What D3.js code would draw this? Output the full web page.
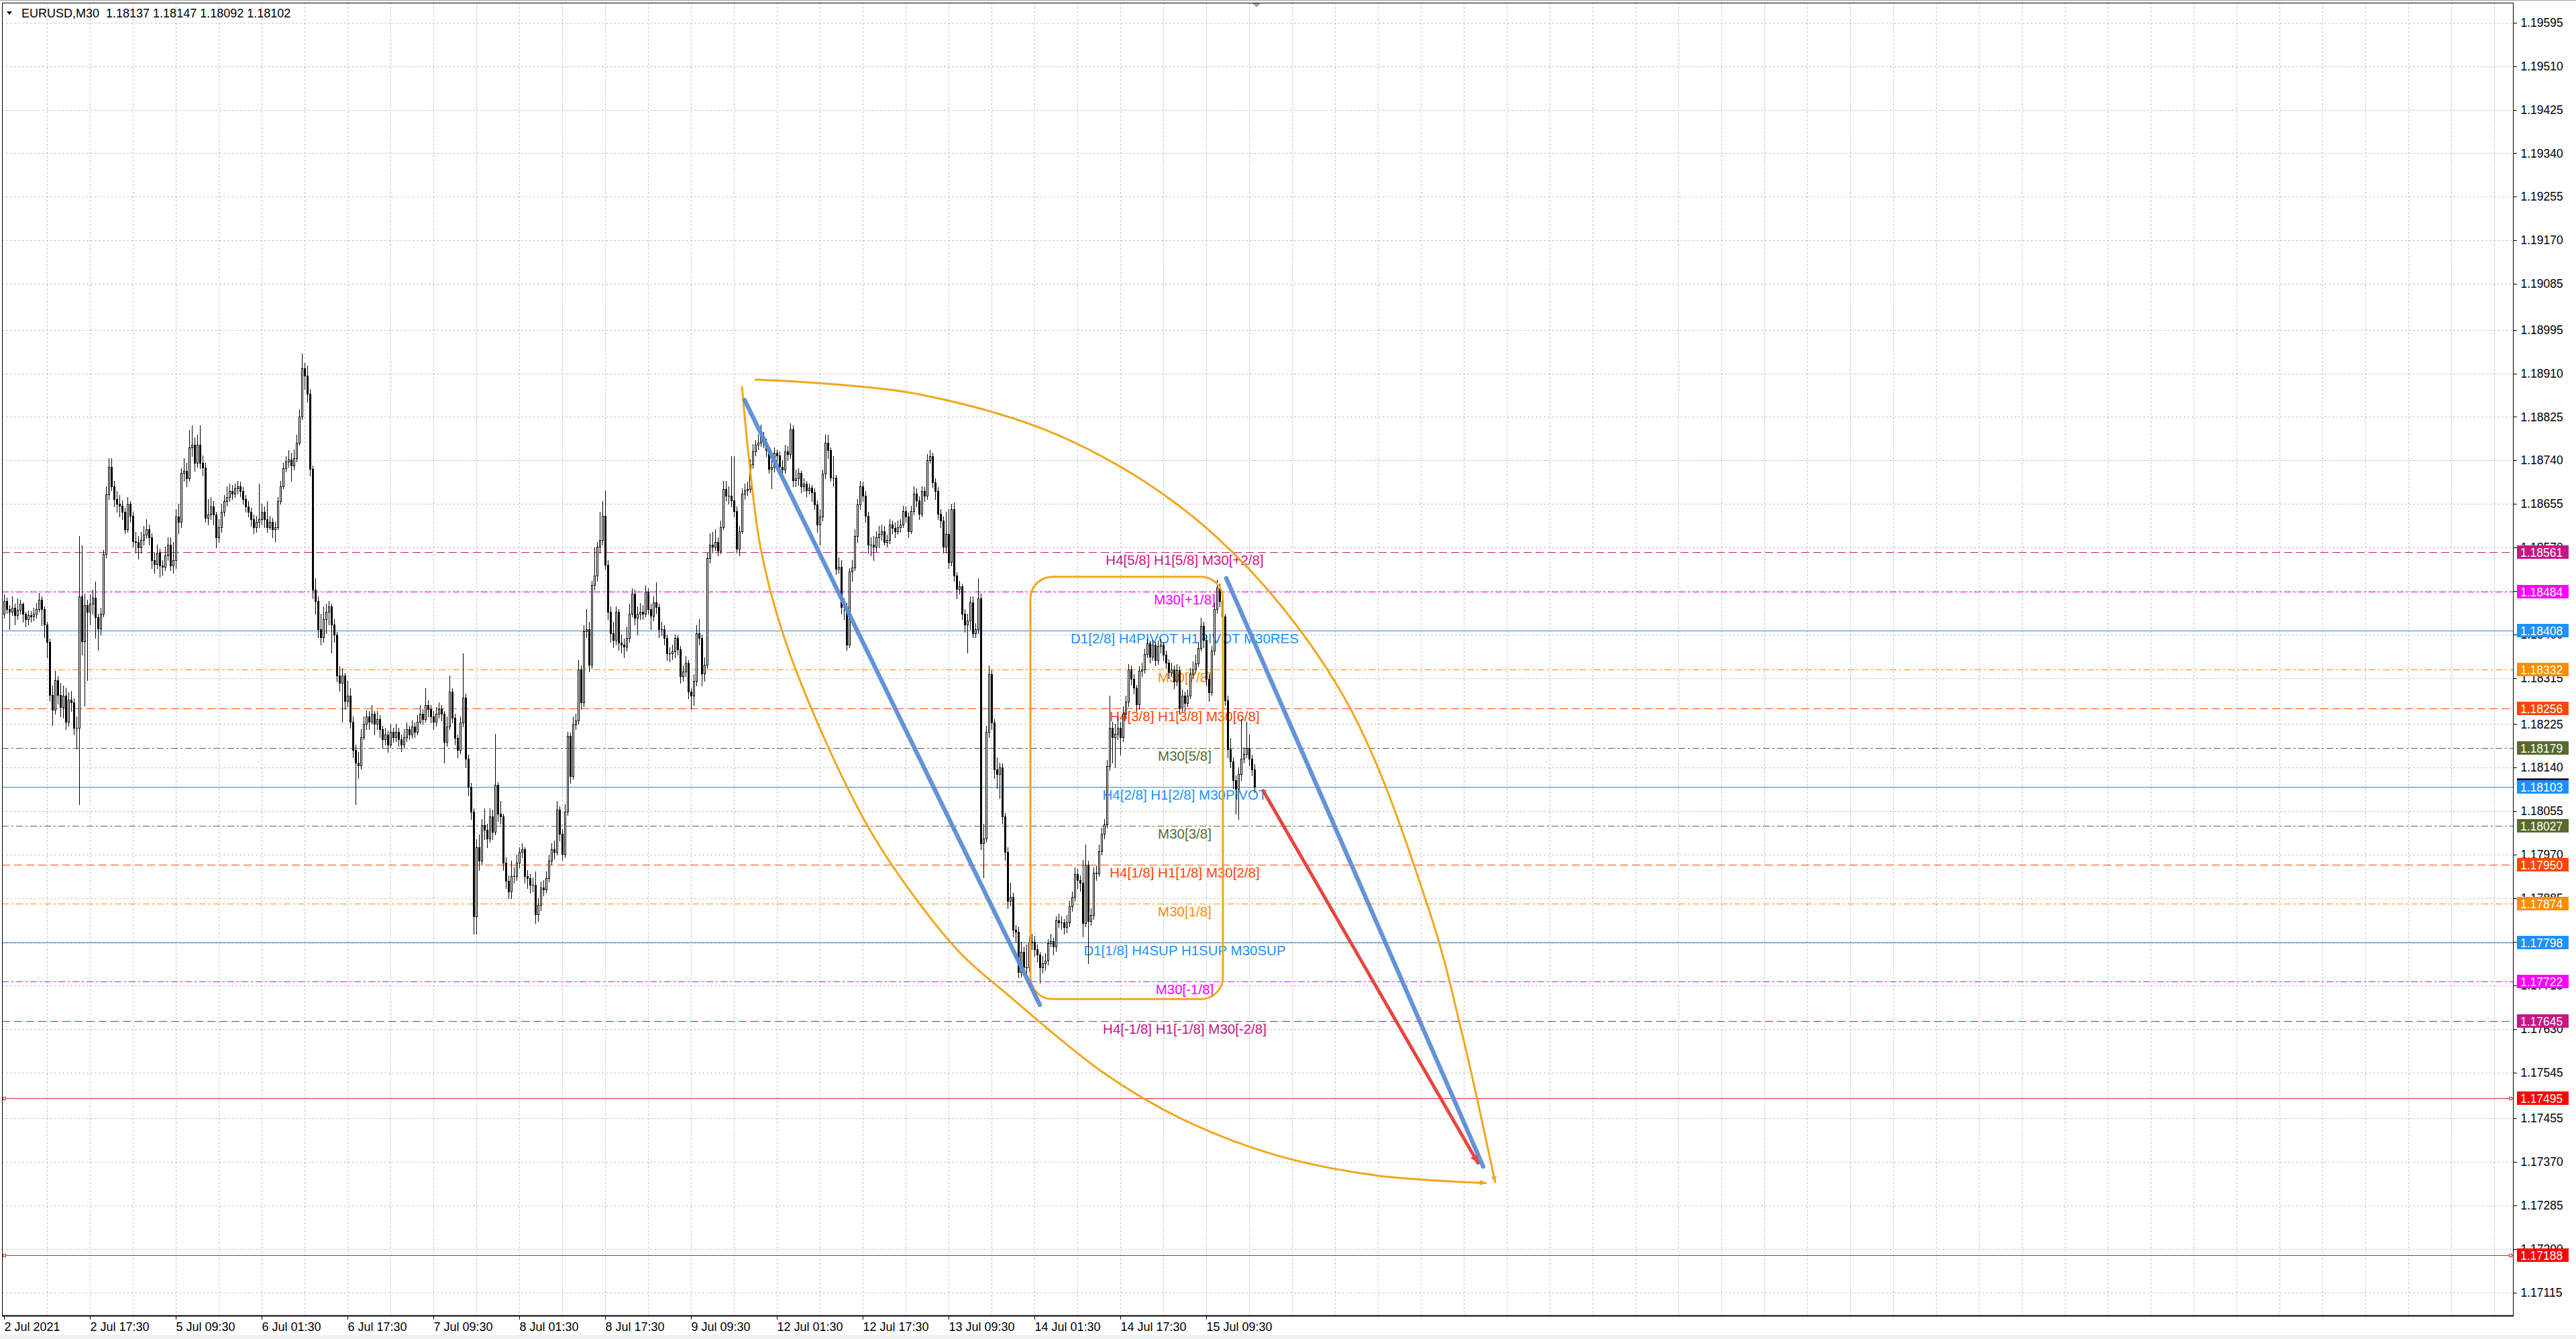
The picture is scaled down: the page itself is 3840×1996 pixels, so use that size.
<!DOCTYPE html>
<html><head><meta charset="utf-8">
<script src="https://cdn.jsdelivr.net/npm/d3@7"></script>
<style>html,body{margin:0;padding:0;background:#fff;}svg{display:block}</style>
</head><body>
<svg id="c" width="3840" height="1996"></svg>
<script>
// ---- DATA (candle values in points above BASE: price = BASE + v/100000) ----
const symbol = "EURUSD,M30";
const BASE = 1.17;
const open = [1440,1465,1450,1445,1452,1438,1448,1460,1440,1430,1438,1435,1440,1450,1468,1450,1420,1385,1282,1253,1311,1282,1259,1280,1229,1273,1268,1218,1218,1475,1387,1457,1445,1460,1472,1434,1411,1440,1557,1674,1727,1690,1665,1655,1652,1640,1605,1655,1632,1582,1580,1570,1585,1595,1605,1590,1545,1538,1560,1535,1532,1555,1575,1535,1545,1630,1620,1715,1720,1705,1765,1770,1735,1770,1735,1726,1628,1635,1650,1635,1590,1610,1640,1660,1668,1680,1675,1685,1690,1680,1665,1650,1640,1625,1610,1620,1625,1640,1625,1610,1620,1605,1610,1660,1690,1725,1738,1742,1730,1745,1775,1826,1920,1905,1870,1724,1487,1465,1410,1395,1430,1445,1455,1420,1400,1320,1305,1320,1270,1280,1230,1175,1150,1145,1200,1225,1240,1230,1245,1225,1235,1215,1195,1205,1185,1210,1200,1210,1195,1185,1200,1215,1205,1220,1210,1230,1245,1235,1262,1255,1240,1230,1245,1255,1245,1190,1220,1288,1237,1198,1175,1228,1277,1158,1102,1054,850,985,958,1028,1019,1002,1045,1015,1106,1050,1045,954,919,898,928,928,954,976,980,928,924,911,911,854,872,906,902,924,958,980,976,1058,1011,971,1054,1202,1124,1224,1232,1332,1267,1406,1410,1341,1497,1515,1571,1584,1632,1536,1445,1402,1389,1445,1384,1380,1376,1393,1441,1480,1432,1441,1445,1441,1484,1450,1436,1463,1454,1410,1410,1393,1363,1363,1367,1393,1371,1319,1328,1345,1289,1280,1310,1402,1393,1324,1341,1549,1575,1571,1580,1563,1610,1684,1671,1671,1662,1641,1567,1602,1675,1681,1684,1732,1758,1771,1775,1788,1775,1760,1723,1728,1755,1750,1728,1722,1758,1752,1801,1701,1705,1715,1690,1695,1682,1687,1678,1654,1615,1630,1714,1775,1760,1706,1706,1528,1532,1454,1454,1380,1523,1531,1593,1654,1689,1671,1632,1575,1575,1571,1590,1597,1602,1580,1585,1615,1608,1602,1610,1615,1641,1630,1602,1641,1675,1662,1636,1680,1671,1741,1749,1697,1680,1636,1623,1571,1597,1541,1645,1515,1489,1494,1441,1420,1428,1463,1402,1410,1471,993,1002,1210,1323,1228,1137,1128,1141,1045,976,880,888,824,820,741,780,750,750,798,800,785,775,750,758,763,797,801,790,842,838,838,828,838,869,887,932,920,915,836,950,840,852,935,933,977,1011,1029,1143,1218,1200,1206,1218,1200,1245,1269,1332,1314,1296,1263,1329,1332,1362,1383,1356,1380,1350,1378,1380,1360,1345,1326,1332,1308,1330,1257,1281,1266,1281,1323,1332,1344,1374,1417,1390,1314,1287,1368,1450,1492,1465,1435,1272,1176,1152,1116,1098,1128,1158,1167,1179,1158,1137];
const high = [1478,1472,1458,1475,1460,1470,1468,1463,1445,1447,1446,1452,1462,1481,1474,1455,1425,1392,1300,1329,1318,1305,1300,1296,1287,1290,1276,1240,1592,1574,1480,1468,1478,1487,1504,1440,1452,1565,1690,1744,1744,1700,1680,1672,1662,1648,1668,1660,1640,1600,1592,1600,1612,1625,1615,1598,1560,1575,1568,1545,1572,1590,1590,1580,1645,1655,1725,1745,1735,1800,1808,1785,1790,1808,1750,1735,1665,1668,1660,1640,1625,1655,1672,1690,1695,1692,1695,1700,1698,1688,1672,1660,1648,1635,1632,1695,1655,1650,1660,1632,1628,1620,1668,1700,1735,1748,1760,1755,1762,1790,1840,1949,1930,1925,1880,1730,1510,1475,1440,1455,1460,1465,1460,1430,1405,1338,1335,1325,1310,1295,1240,1185,1170,1215,1240,1252,1250,1262,1250,1250,1242,1222,1218,1212,1225,1218,1225,1218,1205,1215,1228,1222,1232,1228,1242,1262,1255,1295,1272,1262,1250,1258,1268,1262,1250,1240,1320,1295,1245,1205,1240,1363,1285,1165,1110,1060,1000,1010,1040,1060,1030,1060,1058,1206,1112,1075,1050,965,930,958,945,970,985,992,985,940,932,925,938,885,918,920,938,970,992,998,1075,1065,1020,1068,1210,1208,1240,1245,1350,1340,1418,1450,1425,1505,1570,1580,1640,1660,1680,1545,1455,1425,1455,1450,1400,1392,1415,1460,1490,1488,1455,1462,1458,1495,1490,1460,1475,1502,1460,1425,1418,1400,1375,1380,1400,1398,1378,1340,1358,1350,1295,1322,1418,1430,1400,1355,1560,1598,1600,1605,1590,1622,1700,1700,1690,1749,1749,1650,1612,1685,1695,1698,1742,1772,1780,1790,1810,1796,1782,1765,1740,1765,1762,1758,1740,1770,1768,1812,1808,1722,1725,1720,1705,1700,1695,1692,1685,1662,1645,1722,1790,1790,1765,1748,1712,1550,1545,1470,1462,1530,1545,1605,1665,1700,1698,1680,1640,1590,1592,1602,1612,1615,1612,1595,1625,1622,1618,1622,1625,1652,1650,1638,1652,1690,1685,1670,1690,1688,1752,1760,1755,1705,1688,1645,1630,1640,1645,1655,1658,1522,1505,1500,1450,1440,1475,1475,1422,1510,1480,1030,1222,1340,1330,1235,1160,1150,1148,1052,985,915,895,832,828,800,790,795,810,815,812,795,780,772,778,805,815,808,850,855,850,845,852,880,898,945,942,930,960,990,958,865,945,948,990,1022,1040,1155,1280,1230,1225,1240,1230,1260,1280,1342,1340,1322,1302,1338,1345,1372,1392,1388,1390,1385,1388,1392,1385,1368,1352,1345,1340,1342,1338,1292,1288,1292,1335,1348,1360,1385,1432,1425,1398,1322,1378,1462,1507,1500,1472,1440,1280,1198,1160,1125,1140,1235,1180,1230,1205,1165,1147];
const low = [1432,1442,1410,1438,1420,1430,1440,1425,1416,1420,1425,1428,1432,1445,1418,1395,1355,1270,1223,1245,1265,1240,1238,1215,1222,1250,1205,1177,1068,1360,1261,1311,1420,1440,1393,1370,1400,1435,1550,1665,1682,1650,1640,1630,1625,1598,1600,1620,1572,1560,1548,1560,1575,1588,1575,1530,1520,1530,1512,1516,1525,1545,1525,1520,1530,1598,1610,1700,1690,1700,1748,1720,1728,1725,1710,1620,1615,1625,1615,1570,1580,1600,1632,1652,1660,1665,1668,1675,1670,1655,1640,1630,1612,1598,1600,1610,1615,1610,1600,1605,1590,1582,1605,1655,1685,1718,1728,1700,1722,1738,1770,1820,1880,1855,1710,1470,1440,1395,1380,1385,1402,1420,1365,1385,1308,1290,1230,1255,1260,1218,1160,1068,1120,1138,1195,1215,1215,1225,1205,1215,1200,1178,1185,1170,1180,1190,1192,1182,1172,1178,1192,1195,1198,1200,1205,1225,1225,1230,1240,1228,1215,1222,1238,1232,1150,1182,1215,1228,1185,1160,1168,1220,1140,1085,1040,815,815,940,950,1000,985,995,1000,1010,1035,1030,940,905,885,885,915,920,945,965,915,905,895,898,837,840,862,890,895,918,950,962,970,998,960,965,1048,1110,1118,1215,1225,1255,1260,1395,1328,1335,1488,1505,1560,1575,1528,1430,1385,1375,1380,1370,1365,1355,1368,1385,1435,1420,1400,1430,1430,1435,1440,1410,1428,1442,1395,1398,1380,1350,1348,1352,1355,1360,1305,1310,1318,1275,1254,1262,1300,1380,1300,1310,1335,1540,1560,1565,1555,1558,1605,1662,1655,1650,1630,1560,1555,1598,1665,1672,1678,1725,1750,1762,1768,1765,1748,1715,1685,1718,1738,1712,1705,1715,1740,1745,1690,1690,1692,1678,1680,1670,1675,1660,1645,1600,1575,1622,1705,1745,1700,1690,1518,1520,1440,1430,1370,1375,1505,1525,1580,1645,1660,1620,1560,1555,1545,1562,1570,1585,1575,1572,1578,1598,1590,1596,1600,1610,1620,1590,1598,1635,1650,1625,1630,1660,1665,1735,1688,1665,1625,1610,1560,1560,1530,1535,1505,1470,1480,1430,1405,1365,1410,1395,1395,1402,980,925,995,1200,1215,1120,1100,1080,1030,960,865,870,810,800,730,732,735,738,742,785,772,760,720,740,745,755,790,775,782,828,825,815,818,830,860,880,905,900,810,830,758,832,845,920,928,970,1002,1022,1135,1150,1140,1195,1165,1192,1238,1260,1302,1285,1250,1255,1318,1325,1355,1345,1350,1340,1342,1365,1350,1335,1315,1318,1295,1300,1245,1250,1250,1260,1275,1315,1325,1338,1368,1375,1300,1270,1282,1360,1442,1455,1420,1262,1160,1140,1100,1050,1040,1115,1150,1160,1145,1125,1092];
const close = [1465,1450,1445,1452,1438,1448,1460,1440,1430,1438,1435,1440,1450,1468,1450,1420,1385,1282,1253,1311,1282,1259,1280,1229,1273,1268,1218,1218,1475,1387,1457,1445,1460,1472,1434,1411,1440,1557,1674,1727,1690,1665,1655,1652,1640,1605,1655,1632,1582,1580,1570,1585,1595,1605,1590,1545,1538,1560,1535,1532,1555,1575,1535,1545,1630,1620,1715,1720,1705,1765,1770,1735,1770,1735,1726,1628,1635,1650,1635,1590,1610,1640,1660,1668,1680,1675,1685,1690,1680,1665,1650,1640,1625,1610,1620,1625,1640,1625,1610,1620,1605,1610,1660,1690,1725,1738,1742,1730,1745,1775,1826,1920,1905,1870,1724,1487,1465,1410,1395,1430,1445,1455,1420,1400,1320,1305,1320,1270,1280,1230,1175,1150,1145,1200,1225,1240,1230,1245,1225,1235,1215,1195,1205,1185,1210,1200,1210,1195,1185,1200,1215,1205,1220,1210,1230,1245,1235,1262,1255,1240,1230,1245,1255,1245,1190,1220,1288,1237,1198,1175,1228,1277,1158,1102,1054,850,985,958,1028,1019,1002,1045,1015,1106,1050,1045,954,919,898,928,928,954,976,980,928,924,911,911,854,872,906,902,924,958,980,976,1058,1011,971,1054,1202,1124,1224,1232,1332,1267,1406,1410,1341,1497,1515,1571,1584,1632,1536,1445,1402,1389,1445,1384,1380,1376,1393,1441,1480,1432,1441,1445,1441,1484,1450,1436,1463,1454,1410,1410,1393,1363,1363,1367,1393,1371,1319,1328,1345,1289,1280,1310,1402,1393,1324,1341,1549,1575,1571,1580,1563,1610,1684,1671,1671,1662,1641,1567,1602,1675,1681,1684,1732,1758,1771,1775,1788,1775,1760,1723,1728,1755,1750,1728,1722,1758,1752,1801,1701,1705,1715,1690,1695,1682,1687,1678,1654,1615,1630,1714,1775,1760,1706,1706,1528,1532,1454,1454,1380,1523,1531,1593,1654,1689,1671,1632,1575,1575,1571,1590,1597,1602,1580,1585,1615,1608,1602,1610,1615,1641,1630,1602,1641,1675,1662,1636,1680,1671,1741,1749,1697,1680,1636,1623,1571,1597,1541,1645,1515,1489,1494,1441,1420,1428,1463,1402,1410,1471,993,1002,1210,1323,1228,1137,1128,1141,1045,976,880,888,824,820,741,780,750,750,798,800,785,775,750,758,763,797,801,790,842,838,838,828,838,869,887,932,920,915,836,950,840,852,935,933,977,1011,1029,1143,1218,1200,1206,1218,1200,1245,1269,1332,1314,1296,1263,1329,1332,1362,1383,1356,1380,1350,1378,1380,1360,1345,1326,1332,1308,1330,1257,1281,1266,1281,1323,1332,1344,1374,1417,1390,1314,1287,1368,1450,1492,1465,1435,1272,1176,1152,1116,1098,1128,1158,1167,1179,1158,1137,1102];

const timeLabels = ["2 Jul 2021","2 Jul 17:30","5 Jul 09:30","6 Jul 01:30","6 Jul 17:30","7 Jul 09:30","8 Jul 01:30","8 Jul 17:30","9 Jul 09:30","12 Jul 01:30","12 Jul 17:30","13 Jul 09:30","14 Jul 01:30","14 Jul 17:30","15 Jul 09:30"];
const timeLabelBars = [0,32,64,96,128,160,192,224,256,288,320,352,384,416,448];
const gridBars = d3.range(16, 936, 16);
const priceTicks = [1.19595,1.19510,1.19425,1.19340,1.19255,1.19170,1.19085,1.18995,1.18910,1.18825,1.18740,1.18655,1.18570,1.18485,1.18400,1.18315,1.18225,1.18140,1.18055,1.17970,1.17885,1.17800,1.17715,1.17630,1.17545,1.17455,1.17370,1.17285,1.17200,1.17115];

const levelPrices = [1.18561,1.18484,1.18408,1.18332,1.18256,1.18179,1.18103,1.18027,1.17950,1.17874,1.17798,1.17722,1.17645,1.17495,1.17188];
const levelTexts = ["H4[5/8] H1[5/8] M30[+2/8]","M30[+1/8]","D1[2/8] H4PIVOT H1PIVOT M30RES","M30[7/8]","H4[3/8] H1[3/8] M30[6/8]","M30[5/8]","H4[2/8] H1[2/8] M30PIVOT","M30[3/8]","H4[1/8] H1[1/8] M30[2/8]","M30[1/8]","D1[1/8] H4SUP H1SUP M30SUP","M30[-1/8]","H4[-1/8] H1[-1/8] M30[-2/8]","",""];
const levelColors = ["#C71585","#FF00FF","#1E90FF","#FF8C00","#FF4500","#556B2F","#1E90FF","#556B2F","#FF4500","#FF8C00","#1E90FF","#FF00FF","#C71585","#FF0000","#FF0000"];
const levelStyles = ["dash","dashdot","solid","dashdot","dash","dashdot","solid","dashdot","dash","dashdot","solid","dashdot","dash","solid","solid"];

// drawing objects, in (bar index, price)
const trendBlue1 = [[276,1.18858],[386,1.17677]];
const trendBlue2 = [[455.5,1.18510],[551.25,1.17361]];
const trendRed = [[469.25,1.18095],[549.3,1.17368]];
const arcUpper = [[279.75,1.18898],[341.25,1.18869],[398.5,1.18776],[451.75,1.18591],[498.5,1.18286],[531.25,1.17859],[543.5,1.17618],[555.75,1.17329]];
const arcLower = [[275,1.18885],[281.75,1.18575],[290.25,1.18402],[306.75,1.18185],[323.5,1.18011],[340.25,1.17881],[356.75,1.17776],[373.5,1.17699],[409.25,1.17546],[438.5,1.17455],[473.5,1.17384],[511,1.17344],[552.5,1.17329]];
const boxCorners = [[382.5,1.18513],[454.25,1.17688]];

// ---- RENDER ----
const FONT = "'Liberation Sans', Arial, sans-serif";
const svg = d3.select('#c');
const PL = 3, PT = 4, PR = 3746, PB = 1961;
const N = close.length;
const P = v => BASE + v / 1e5;
const x = d3.scaleLinear().domain([0, 466]).range([6, 1870]);
const y = d3.scaleLinear().domain([1.18561, 1.17188]).range([823, 1871]);

svg.append('rect').attr('width', 3840).attr('height', 1996).attr('fill', '#fff');
svg.append('rect').attr('x', 0).attr('y', 1990).attr('width', 3840).attr('height', 6).attr('fill', '#F0F0F0');
svg.append('line').attr('x1', 0).attr('x2', 3840).attr('y1', 0.5).attr('y2', 0.5).attr('stroke', '#A0A0A0');

svg.append('clipPath').attr('id', 'clip').append('rect')
  .attr('x', PL).attr('y', PT).attr('width', PR - PL).attr('height', PB - PT);
const plot = svg.append('g').attr('clip-path', 'url(#clip)');

// grid
const grid = plot.append('g').attr('shape-rendering', 'crispEdges').attr('stroke', '#C4C4C4').attr('stroke-dasharray', '3,3');
grid.selectAll('line.h').data(priceTicks).join('line')
  .attr('x1', PL).attr('x2', PR).attr('y1', d => Math.round(y(d)) + 0.5).attr('y2', d => Math.round(y(d)) + 0.5);
grid.selectAll('line.v').data(gridBars).join('line')
  .attr('y1', PT).attr('y2', PB).attr('x1', d => Math.round(x(d)) + 0.5).attr('x2', d => Math.round(x(d)) + 0.5);

// level lines
const dashes = { dash: '12,6', dashdot: '10,4,3,4', solid: null };
const lineColor = c => c === '#FF0000' ? '#D02828' : (c === '#1E90FF' ? '#3A84D0' : c);
const levels = levelPrices.map((p, i) => ({ p, t: levelTexts[i], c: levelColors[i], s: levelStyles[i] }));
plot.append('g').attr('shape-rendering', 'crispEdges').selectAll('line').data(levels).join('line')
  .attr('x1', PL).attr('x2', PR)
  .attr('y1', d => Math.round(y(d.p)) + 0.5).attr('y2', d => Math.round(y(d.p)) + 0.5)
  .attr('stroke', d => lineColor(d.c))
  .attr('stroke-width', 1.3)
  .attr('stroke-dasharray', d => dashes[d.s]);
// red line end markers
levels.filter(d => d.c === '#FF0000').forEach(d => {
  [PR - 6, PL + 1].forEach(xx => plot.append('rect').attr('x', xx + 0.5).attr('y', Math.round(y(d.p)) - 2 + 0.5)
    .attr('width', 4).attr('height', 4).attr('fill', '#fff').attr('stroke', '#D02828').attr('stroke-width', 1));
});

// level texts
const labelBar = 440;
plot.append('g').selectAll('text').data(levels.filter(d => d.t)).join('text')
  .attr('x', x(labelBar)).attr('y', d => y(d.p) + 19)
  .attr('text-anchor', 'middle').attr('font-family', FONT).attr('font-size', 20.5)
  .attr('fill', d => d.c).text(d => d.t);

// candles
const cg = plot.append('g').attr('shape-rendering', 'crispEdges');
const bars = d3.range(N).map(i => ({ i, o: P(open[i]), h: P(high[i]), l: P(low[i]), c: P(close[i]) }));
cg.selectAll('line.w').data(bars).join('line')
  .attr('x1', d => Math.round(x(d.i)) + 0.5).attr('x2', d => Math.round(x(d.i)) + 0.5)
  .attr('y1', d => Math.round(y(d.h))).attr('y2', d => Math.round(y(d.l)) + 1)
  .attr('stroke', '#000').attr('stroke-width', 1);
cg.selectAll('rect.b').data(bars).join('rect')
  .each(function (d) {
    const cx = Math.round(x(d.i));
    const yo = Math.round(y(d.o)), yc = Math.round(y(d.c));
    const s = d3.select(this);
    if (d.c > d.o) {
      s.attr('x', cx - 1 + 0.5).attr('width', 2).attr('y', yc + 0.5).attr('height', Math.max(1, yo - yc))
        .attr('fill', '#fff').attr('stroke', '#000').attr('stroke-width', 1);
    } else {
      s.attr('x', cx - 1).attr('width', 3).attr('y', yo).attr('height', Math.max(1, yc - yo + 1)).attr('fill', '#000');
    }
  });

// drawings
const ORANGE = '#F2A61C';
const line = d3.line().x(d => x(d[0])).y(d => y(d[1]));
const curve = d3.line().x(d => x(d[0])).y(d => y(d[1])).curve(d3.curveCatmullRom.alpha(0.5));
plot.append('rect')
  .attr('x', x(boxCorners[0][0])).attr('y', y(boxCorners[0][1]))
  .attr('width', x(boxCorners[1][0]) - x(boxCorners[0][0])).attr('height', y(boxCorners[1][1]) - y(boxCorners[0][1]))
  .attr('rx', 33).attr('ry', 33).attr('fill', 'none').attr('stroke', ORANGE).attr('stroke-width', 3);
plot.append('path').attr('d', curve(arcUpper)).attr('fill', 'none').attr('stroke', ORANGE).attr('stroke-width', 3);
plot.append('path').attr('d', curve(arcLower)).attr('fill', 'none').attr('stroke', ORANGE).attr('stroke-width', 3);

function arrowHead(pts, color, len, wid) {
  const a = pts[pts.length - 2], b = pts[pts.length - 1];
  const ax = x(a[0]), ay = y(a[1]), bx = x(b[0]), by = y(b[1]);
  const dx = bx - ax, dy = by - ay, L = Math.hypot(dx, dy), ux = dx / L, uy = dy / L;
  const px = -uy, py = ux;
  const p = [[bx, by], [bx - ux * len + px * wid, by - uy * len + py * wid], [bx - ux * len - px * wid, by - uy * len - py * wid]];
  plot.append('path').attr('d', 'M' + p.map(q => q.join(',')).join('L') + 'Z').attr('fill', color);
}
arrowHead(arcUpper, ORANGE, 10, 4);
arrowHead(arcLower, ORANGE, 10, 4);

plot.append('path').attr('d', line(trendBlue1)).attr('stroke', '#5B8ED6').attr('stroke-width', 6.5).attr('stroke-linecap', 'round').attr('opacity', 0.95);
plot.append('path').attr('d', line(trendBlue2)).attr('stroke', '#5B8ED6').attr('stroke-width', 6.5).attr('stroke-linecap', 'round').attr('opacity', 0.95);
plot.append('path').attr('d', line(trendRed)).attr('stroke', '#E8453C').attr('stroke-width', 5).attr('stroke-linecap', 'round');
arrowHead(trendRed, '#E8453C', 12, 6);

// chart shift marker
svg.append('path').attr('d', `M${x(466) - 4},${PT}L${x(466) + 10},${PT}L${x(466) + 3},${PT + 7}Z`).attr('fill', '#A0A0A0');

// frame
svg.append('rect').attr('x', PL + 0.5).attr('y', PT + 0.5).attr('width', PR - PL).attr('height', PB - PT)
  .attr('fill', 'none').attr('stroke', '#000').attr('stroke-width', 1).attr('shape-rendering', 'crispEdges');
svg.append('line').attr('x1', PL).attr('x2', PR + 1).attr('y1', PB + 0.5).attr('y2', PB + 0.5).attr('stroke', '#000').attr('stroke-width', 2);

// axes
const yAxis = d3.axisRight(y).tickValues(priceTicks).tickFormat(d3.format('.5f')).tickSize(5).tickPadding(6);
const gy = svg.append('g').attr('transform', `translate(${PR + 0.5},0)`).call(yAxis)
  .attr('font-family', FONT).attr('font-size', 17.5);
gy.select('.domain').remove();
gy.selectAll('text').attr('fill', '#000');
gy.selectAll('line').attr('stroke', '#000').attr('shape-rendering', 'crispEdges');

const xAxis = d3.axisBottom(x).tickValues(timeLabelBars).tickFormat((d, i) => timeLabels[i]).tickSize(5).tickPadding(4);
const gx = svg.append('g').attr('transform', `translate(0,${PB + 1})`).call(xAxis)
  .attr('font-family', FONT).attr('font-size', 18);
gx.select('.domain').remove();
gx.selectAll('text').attr('text-anchor', 'start').attr('fill', '#000');
gx.selectAll('line').attr('stroke', '#000').attr('shape-rendering', 'crispEdges');

// right-scale level boxes
const fmt = d3.format('.5f');
const lastClose = P(close[N - 1]);
svg.append('rect').attr('x', PR + 6).attr('y', y(lastClose) - 13).attr('width', 77).attr('height', 20).attr('fill', '#000');
const boxes = svg.append('g');
levels.forEach(d => {
  const yy = Math.round(y(d.p));
  boxes.append('rect').attr('x', PR + 6).attr('y', yy - 10).attr('width', 77).attr('height', 20).attr('fill', d.c);
  boxes.append('text').attr('x', PR + 11).attr('y', yy + 6.5).attr('font-family', FONT).attr('font-size', 17.5)
    .attr('fill', '#fff').text(fmt(d.p));
});

// header
svg.append('path').attr('d', 'M10,17L18,17L14,22Z').attr('fill', '#000');
svg.append('text').attr('x', 32).attr('y', 26).attr('font-family', FONT).attr('font-size', 18).attr('fill', '#000')
  .attr('xml:space', 'preserve').style('white-space', 'pre')
  .text(`${symbol}  ${fmt(P(open[N - 1]))} ${fmt(P(high[N - 1]))} ${fmt(P(low[N - 1]))} ${fmt(P(close[N - 1]))}`);
</script>
</body></html>
